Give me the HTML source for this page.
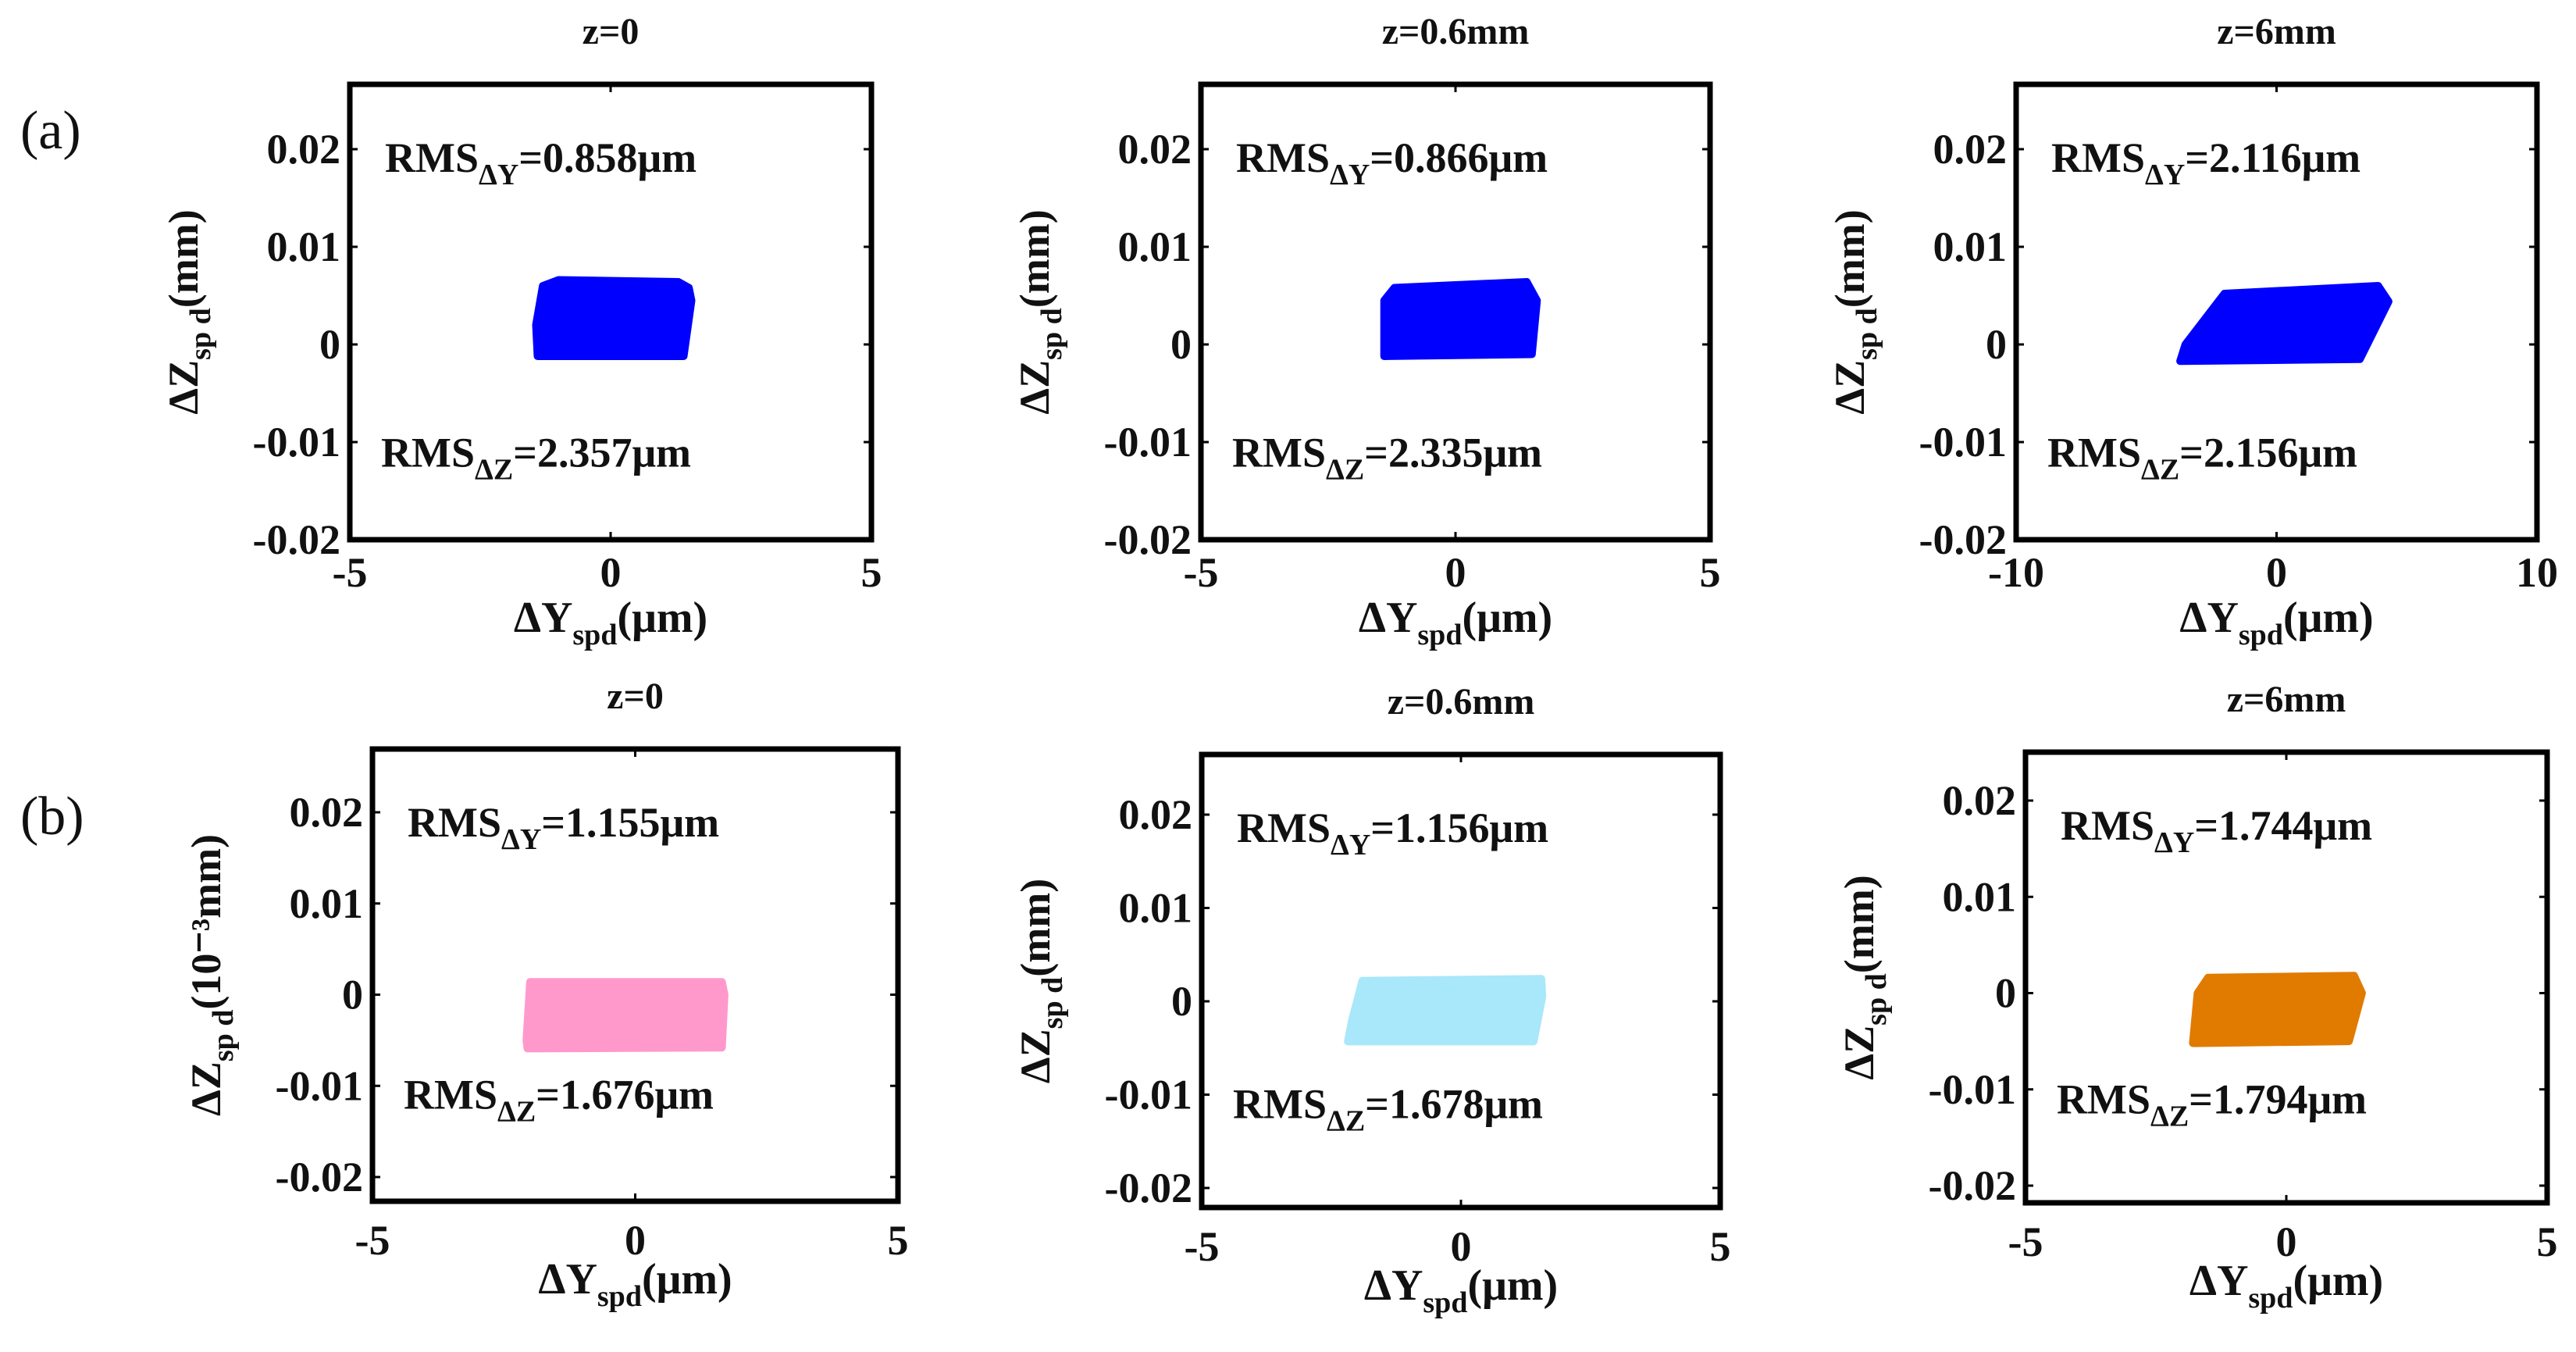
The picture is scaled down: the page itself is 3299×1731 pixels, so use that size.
<!DOCTYPE html>
<html><head><meta charset="utf-8">
<style>
html,body{margin:0;padding:0;background:#fff}
svg{display:block}
text{font-family:"Liberation Serif",serif;font-weight:bold;fill:#111}
</style></head>
<body>
<svg id="fig" width="3299" height="1731" viewBox="0 0 3299 1731" xmlns="http://www.w3.org/2000/svg">
<text x="26" y="190" font-size="70" style="font-weight:normal">(a)</text>
<text x="26" y="1068" font-size="70" style="font-weight:normal">(b)</text>
</svg>
<script>
// ---- data ----
const panelTitles = ["z=0","z=0.6mm","z=6mm","z=0","z=0.6mm","z=6mm"];
const xTickLabels = [["-5","0","5"],["-5","0","5"],["-10","0","10"],["-5","0","5"],["-5","0","5"],["-5","0","5"]];
const xTickValues = [[-5,0,5],[-5,0,5],[-10,0,10],[-5,0,5],[-5,0,5],[-5,0,5]];
const yTickValues = [0.02,0.01,0,-0.01,-0.02];
const yTickLabels = ["0.02","0.01","0","-0.01","-0.02"];
const rmsY = ["0.858","0.866","2.116","1.155","1.156","1.744"];
const rmsZ = ["2.357","2.335","2.156","1.676","1.678","1.794"];
const yAxisUnits = ["(mm)","(mm)","(mm)","(10\u207B\u00B3mm)","(mm)","(mm)"];
// blob outlines as [x (um), z (mm)] vertices
const blobX = [
  [-1.3,-1.0,1.3,1.5,1.55,1.4,-1.4,-1.43],
  [-1.2,1.4,1.6,1.5,-1.4,-1.4],
  [-2.0,3.9,4.3,3.2,-3.7,-3.5],
  [-2.0,1.65,1.7,1.65,-2.05,-2.07],
  [-1.9,1.55,1.57,1.4,-2.18,-2.1],
  [-1.5,1.3,1.45,1.2,-1.79,-1.7]
];
const blobZ = [
  [0.0060,0.0066,0.0064,0.0058,0.0045,-0.0012,-0.0012,0.0020],
  [0.0058,0.0064,0.0045,-0.0010,-0.0012,0.0045],
  [0.0052,0.0060,0.0044,-0.0015,-0.0017,0.0000],
  [0.0014,0.0014,0.0000,-0.0058,-0.0059,-0.0050],
  [0.0022,0.0024,0.0005,-0.0043,-0.0043,-0.0020],
  [0.0016,0.0018,0.0000,-0.0050,-0.0052,0.0000]
];
const blobColors = ["#0000ff","#0000ff","#0000ff","#ff99cc","#a9e7fb","#e07b00"];
// ---- layout ----
const boxes = [
  {l:448,r:1116,t:108,b:691,y02:191,ym02:691},
  {l:1538,r:2190,t:108,b:691,y02:191,ym02:691},
  {l:2582,r:3249,t:108,b:691,y02:191,ym02:691},
  {l:477,r:1150,t:959,b:1538,y02:1040,ym02:1507},
  {l:1539,r:2203,t:966,b:1546,y02:1043,ym02:1521},
  {l:2594,r:3262,t:963,b:1540,y02:1025,ym02:1518}
];
const NS="http://www.w3.org/2000/svg";
const svg=document.getElementById('fig');
function mk(tag,attrs,parent){const e=document.createElementNS(NS,tag);for(const k in attrs)e.setAttribute(k,attrs[k]);(parent||svg).appendChild(e);return e;}
boxes.forEach((B,i)=>{
  const g=mk('g',{});
  
  
  const xv=xTickValues[i];
  const xs=v=>B.l+(v-xv[0])/(xv[2]-xv[0])*(B.r-B.l);
  const ys=v=>B.ym02+(v+0.02)/0.04*(B.y02-B.ym02);
  const pts=blobX[i].map((x,j)=>xs(x).toFixed(1)+','+ys(blobZ[i][j]).toFixed(1)).join(' ');
  const poly=mk('polygon',{points:pts,fill:blobColors[i],stroke:blobColors[i],'stroke-width':10,'stroke-linejoin':'round'},g);
  
  
  const fr=mk('rect',{x:B.l,y:B.t,width:B.r-B.l,height:B.b-B.t,fill:'none',stroke:'#000','stroke-width':7},g);
  
  
  xv.forEach((v,j)=>{
    const x=xs(v);
    mk('line',{x1:x,y1:B.b,x2:x,y2:B.b-10,stroke:'#000','stroke-width':3},g);
    mk('line',{x1:x,y1:B.t,x2:x,y2:B.t+10,stroke:'#000','stroke-width':3},g);
    const t=mk('text',{x:x,y:B.b+(i<3?60:68),'font-size':54,'text-anchor':'middle'},g);
    t.textContent=xTickLabels[i][j];
    
    
  });
  yTickValues.forEach((v,j)=>{
    const y=ys(v);
    mk('line',{x1:B.l,y1:y,x2:B.l+10,y2:y,stroke:'#000','stroke-width':3},g);
    mk('line',{x1:B.r,y1:y,x2:B.r-10,y2:y,stroke:'#000','stroke-width':3},g);
    const t=mk('text',{x:B.l-12,y:y+18,'font-size':54,'text-anchor':'end'},g);
    t.textContent=yTickLabels[j];
    
    
  });
  const cx=(B.l+B.r)/2;
  const ti=mk('text',{x:cx,y:B.t-52,'font-size':48,'text-anchor':'middle'},g);
  ti.textContent=panelTitles[i];
  
  
  const xt=mk('text',{x:cx,y:B.b+118,'font-size':56,'text-anchor':'middle'},g);
  
  
  xt.innerHTML='\u0394Y<tspan font-size="38" dy="16">spd</tspan><tspan dy="-16">(\u03BCm)</tspan>';
  const ycy=(B.t+B.b)/2, ycx=B.l-195;
  const yt=mk('text',{x:0,y:0,'font-size':54,'text-anchor':'middle',transform:`translate(${ycx},${ycy}) rotate(-90)`},g);
  
  
  yt.innerHTML='\u0394Z<tspan font-size="38" dy="16">sp d</tspan><tspan dy="-16">'+yAxisUnits[i]+'</tspan>';
  const r1=mk('text',{x:B.l+45,y:B.t+112,'font-size':54},g);
  
  
  r1.innerHTML='RMS<tspan font-size="38" dy="16">\u0394Y</tspan><tspan dy="-16">='+rmsY[i]+'\u03BCm</tspan>';
  const r2=mk('text',{x:B.l+40,y:ys(-0.0125),'font-size':54},g);
  
  
  r2.innerHTML='RMS<tspan font-size="38" dy="16">\u0394Z</tspan><tspan dy="-16">='+rmsZ[i]+'\u03BCm</tspan>';
});
</script>
</body></html>
